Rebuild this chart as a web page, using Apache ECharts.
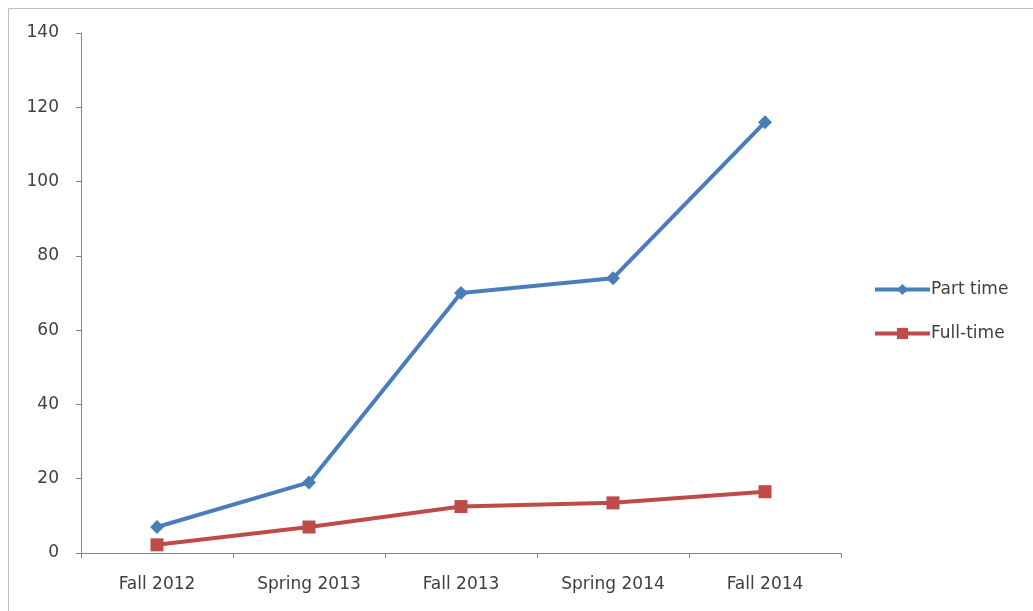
<!DOCTYPE html>
<html>
<head>
<meta charset="utf-8">
<script src="https://cdn.jsdelivr.net/npm/echarts@6/dist/echarts.min.js"></script>
<style>html,body{margin:0;padding:0;background:#fff}#c{width:1033px;height:611px}</style>
</head>
<body>
<div id="c"></div>
<script>
const categories = ['Fall 2012', 'Spring 2013', 'Fall 2013', 'Spring 2014', 'Fall 2014'];
const partTime = [7, 19, 70, 74, 116];
const fullTime = [2.2, 7, 12.5, 13.5, 16.5];
const yTicks = { min: 0, max: 140, interval: 20 };

const chart = echarts.init(document.getElementById('c'));
const font = 'DejaVu Sans';
const axisGray = '#868686';
const textColor = '#404040';
chart.setOption({
  animation: false,
  backgroundColor: '#fff',
  graphic: [{
    type: 'rect', shape: { x: 8.5, y: 8.5, width: 1030, height: 610 },
    style: { fill: 'none', stroke: '#bfbfbf', lineWidth: 1 }, silent: true
  }],
  grid: { left: 81, right: 192, top: 33, bottom: 58 },
  legend: {
    orient: 'vertical', left: 873, top: 281, padding: 0,
    itemWidth: 55, itemHeight: 14, itemGap: 27,
    lineStyle: { width: 4 },
    textStyle: { fontFamily: font, fontSize: 17, color: textColor, padding: [0, 0, 0, -4] },
    data: ['Part time', 'Full-time']
  },
  xAxis: {
    type: 'category', data: categories, boundaryGap: true,
    axisLine: { lineStyle: { color: axisGray, width: 1 } },
    axisTick: { show: true, alignWithLabel: false, length: 5, lineStyle: { color: axisGray } },
    axisLabel: { fontFamily: font, fontSize: 17, color: textColor, margin: 23 }
  },
  yAxis: {
    type: 'value', min: yTicks.min, max: yTicks.max, interval: yTicks.interval,
    axisLine: { show: true, lineStyle: { color: axisGray, width: 1 } },
    axisTick: { show: true, length: 5, lineStyle: { color: axisGray } },
    splitLine: { show: false },
    axisLabel: { fontFamily: font, fontSize: 17, color: textColor, margin: 22 }
  },
  series: [{
    name: 'Part time', type: 'line', data: partTime,
    symbol: 'diamond', symbolSize: 14,
    lineStyle: { color: '#4A7EBB', width: 4 },
    itemStyle: { color: '#4A7EBB' }
  }, {
    name: 'Full-time', type: 'line', data: fullTime,
    symbol: 'rect', symbolSize: 13,
    lineStyle: { color: '#BE4B48', width: 4 },
    itemStyle: { color: '#BE4B48' }
  }]
});
</script>
</body>
</html>
